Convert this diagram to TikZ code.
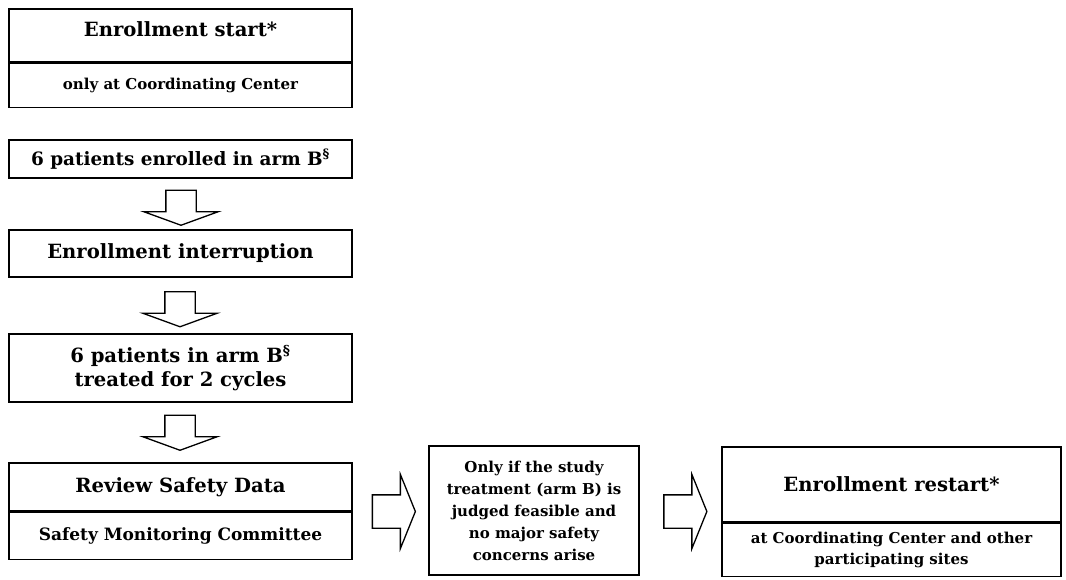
\documentclass[tikz,border=0pt]{standalone}
\usepackage{fontspec}
\setmainfont{DejaVu Serif}
\usetikzlibrary{shapes,positioning}

\begin{document}
\begin{tikzpicture}[x=1pt,y=-1pt,
  headbox/.style={draw,line width=2.2pt,inner sep=0pt,align=center,font=\bfseries\fontsize{19.6}{23}\selectfont},
  subbox/.style={draw,line width=1.3pt,inner sep=0pt,align=center,font=\bfseries\fontsize{15}{21}\selectfont},
  stepbox/.style={draw,line width=1.8pt,inner sep=0pt,minimum width=343pt,align=center,font=\bfseries\fontsize{19.6}{24}\selectfont},
  downarrow/.style={single arrow,draw,line width=1.3pt,shape border rotate=270,inner xsep=14.5pt,inner ysep=0pt,single arrow head extend=22pt,single arrow tip angle=140,minimum height=35pt},
  rightarrow/.style={single arrow,draw,line width=1.3pt,inner xsep=0pt,inner ysep=16pt,single arrow head extend=20.5pt,single arrow tip angle=136,minimum height=43pt}]
\useasboundingbox (0,0) rectangle (1066,579);
% left column
\node[headbox,minimum width=343pt,minimum height=53pt,text height=15pt,text depth=14pt] (start) at (180.5,35.5) {Enrollment start*};
\node[subbox,minimum width=343pt,minimum height=44pt,anchor=north] (startsub) at (start.south) {only at Coordinating Center};
\node[stepbox,minimum height=38pt,font=\bfseries\fontsize{18.4}{22}\selectfont] (enrolled) at (180.5,159) {6 patients enrolled in arm B\textsuperscript{§}};
\node[downarrow] (arrowA) at (181,205) {};
\node[stepbox,minimum height=47pt] (interrupt) at (180.5,253.5) {Enrollment interruption};
\node[downarrow] (arrowB) at (180,306.5) {};
\node[stepbox,minimum height=68pt] (treated) at (180.5,368) {6 patients in arm B\textsuperscript{§}\\treated for 2 cycles};
\node[downarrow] (arrowC) at (180,430) {};
\node[headbox,minimum width=343pt,minimum height=48pt] (review) at (180.5,487) {Review Safety Data};
\node[subbox,minimum width=343pt,minimum height=47pt,anchor=north,font=\bfseries\fontsize{17}{21}\selectfont] (reviewsub) at (review.south) {Safety Monitoring Committee};
% bottom row
\node[rightarrow] (arrowD) at (390.5,511.5) {};
\node[stepbox,minimum width=210pt,minimum height=129pt,font=\bfseries\fontsize{15}{22}\selectfont] (cond) at (534,510.5) {Only if the study\\treatment (arm B) is\\judged feasible and\\no major safety\\concerns arise};
\node[rightarrow] (arrowE) at (682,511.5) {};
\node[headbox,minimum width=339pt,minimum height=75pt] (restart) at (891.5,484.5) {Enrollment restart*};
\node[subbox,minimum width=339pt,minimum height=53pt,anchor=north] (restartsub) at (restart.south) {at Coordinating Center and other\\participating sites};
\end{tikzpicture}
\end{document}
